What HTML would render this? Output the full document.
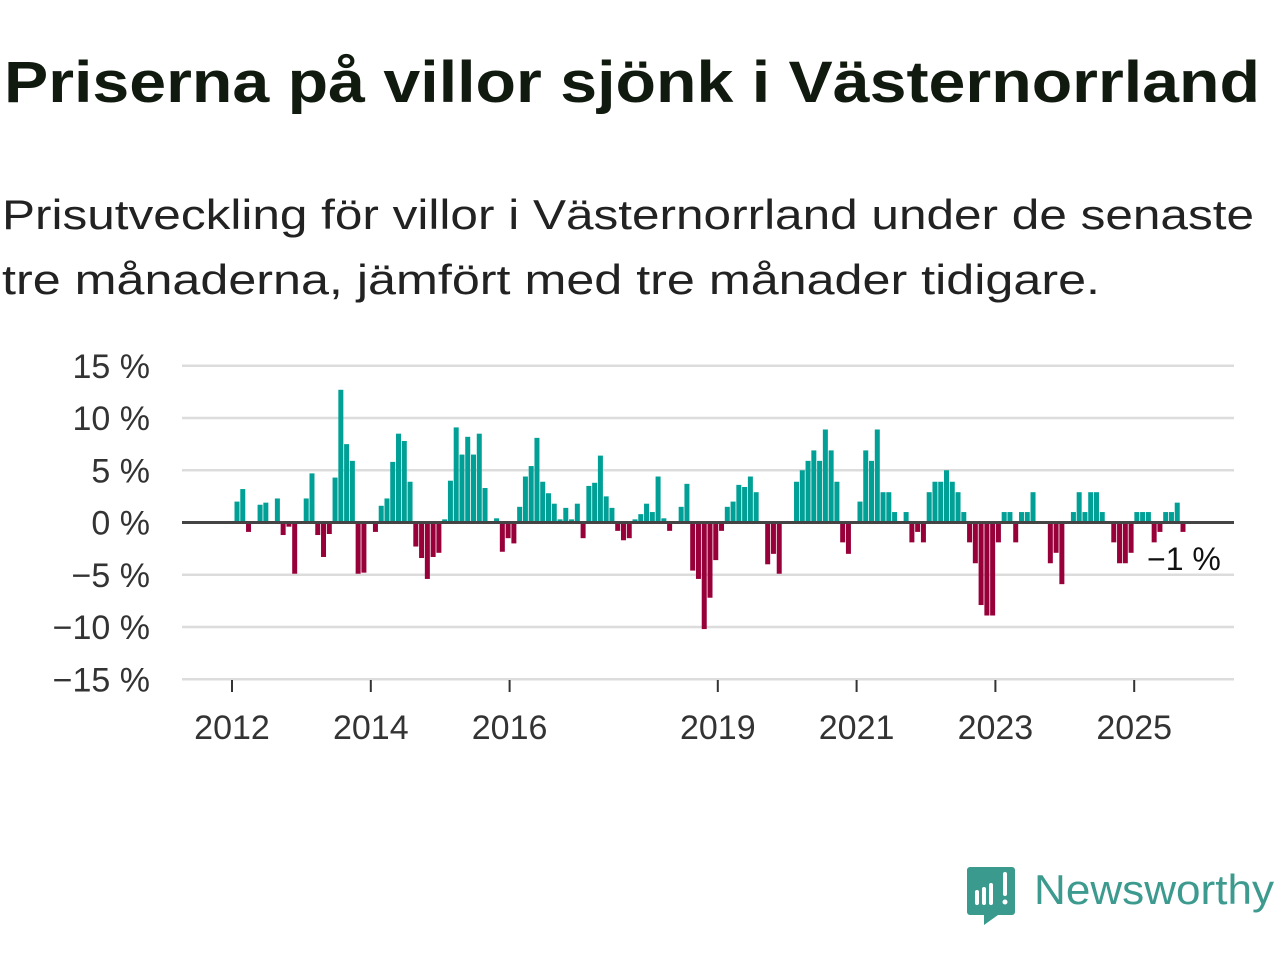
<!DOCTYPE html>
<html><head><meta charset="utf-8"><style>
html,body{margin:0;padding:0;background:#fff}
svg{display:block}
text{font-family:"Liberation Sans","DejaVu Sans",sans-serif}
</style></head><body>
<svg id="chart" width="1280" height="960" viewBox="0 0 1280 960">
<text x="4" y="102" font-size="58" font-weight="bold" fill="#111a0f" textLength="1256" lengthAdjust="spacingAndGlyphs">Priserna på villor sjönk i Västernorrland</text>
<text x="2" y="229" font-size="42" fill="#222" textLength="1252" lengthAdjust="spacingAndGlyphs">Prisutveckling för villor i Västernorrland under de senaste</text>
<text x="2" y="294" font-size="42" fill="#222" textLength="1098" lengthAdjust="spacingAndGlyphs">tre månaderna, jämfört med tre månader tidigare.</text>
<g id="grid"></g><g id="bars"></g><g id="axes"></g>
<g>
<path d="M970 867 h42 a3 3 0 0 1 3 3 v42 a3 3 0 0 1 -3 3 h-14 l-14 10 v-10 h-14 a3 3 0 0 1 -3 -3 v-42 a3 3 0 0 1 3 -3z" fill="#3a9a8e"/>
<rect x="975" y="890" width="4" height="15" rx="2" fill="#fff"/><rect x="982" y="887" width="4" height="18" rx="2" fill="#fff"/><rect x="989" y="883" width="4" height="22" rx="2" fill="#fff"/><rect x="1003" y="872" width="4" height="24" rx="2" fill="#fff"/><circle cx="1005" cy="902" r="2.5" fill="#fff"/>
<text x="1034" y="904" font-size="42" fill="#3d9a8f" textLength="240" lengthAdjust="spacingAndGlyphs">Newsworthy</text>
</g>
</svg>
<script>
const values=[2,3.2,-0.9,0,1.7,1.9,0,2.3,-1.2,-0.4,-4.9,0,2.3,4.7,-1.2,-3.3,-1.1,4.3,12.7,7.5,5.9,-4.9,-4.8,0,-0.9,1.6,2.3,5.8,8.5,7.8,3.9,-2.3,-3.4,-5.4,-3.3,-2.9,0.3,4.0,9.1,6.5,8.2,6.5,8.5,3.3,0,0.4,-2.8,-1.5,-2.0,1.5,4.4,5.4,8.1,
3.9,2.8,1.8,0.3,1.4,0.3,1.8,-1.5,3.5,3.8,6.4,2.5,1.4,-0.8,-1.7,-1.5,0.3,0.8,1.8,1.0,4.4,0.4,-0.8,0,1.5,3.7,-4.6,-5.4,-10.2,-7.2,-3.6,-0.8,1.5,2.0,3.6,3.4,4.4,2.9,0,-4.0,-3.0,-4.9,0,0,3.9,5.0,5.9,6.9,5.9,8.9,6.9,3.9,-1.9,-3.0,0,2.0,6.9,5.9,8.9,
2.9,2.9,1.0,0,1.0,-1.9,-0.9,-1.9,2.9,3.9,3.9,5.0,3.9,2.9,1.0,-1.9,-3.9,-7.9,-8.9,-8.9,-1.9,1.0,1.0,-1.9,1.0,1.0,2.9,0,0,-3.9,-2.9,-5.9,0,1.0,2.9,1.0,2.9,2.9,1.0,0,-1.9,-3.9,-3.9,-2.9,1.0,1.0,1.0,-1.9,-0.9,1.0,1.0,1.9,-0.9];
const yTicks=[15,10,5,0,-5,-10,-15];
const yTickLabels=["15 %","10 %","5 %","0 %","−5 %","−10 %","−15 %"];
const years=[2012,2014,2016,2019,2021,2023,2025];
const lastLabel="−1 %";
const NS="http://www.w3.org/2000/svg";
function y(v){return 522.5-v*10.45;}
function xi(i){return 237+i*(1183-237)/(values.length-1);}
function xYear(yr){return 232+(yr-2012)*69.4;}
function mk(tag,attrs,parent){const e=document.createElementNS(NS,tag);for(const k in attrs)e.setAttribute(k,attrs[k]);parent.appendChild(e);return e;}
const grid=document.getElementById('grid'),bars=document.getElementById('bars'),axes=document.getElementById('axes');
yTicks.forEach((t,k)=>{
 if(t!==0){const l=mk('line',{x1:182,x2:1234,y1:y(t),y2:y(t),stroke:'#dcdcdc','stroke-width':2.5},grid);
 
 }
 const tx=mk('text',{x:150,y:y(t)+12,'font-size':34,fill:'#333','text-anchor':'end'},axes);
 tx.textContent=yTickLabels[k];
 
 
});
values.forEach((v,i)=>{
 if(v===0)return;
 const y0=y(Math.max(v,0)),h=Math.abs(y(v)-y(0));
 const r=mk('rect',{x:xi(i)-2.5,y:y0,width:5,height:h,fill:v>0?'#00a096':'#98003a'},bars);
 
 
});
const zl=mk('line',{x1:182,x2:1234,y1:y(0),y2:y(0),stroke:'#444','stroke-width':3},axes);


years.forEach(yr=>{
 const x=xYear(yr);
 const t=mk('line',{x1:x,x2:x,y1:680,y2:692,stroke:'#333','stroke-width':2},axes);
 
 
 const tx=mk('text',{x:x,y:739,'font-size':34,fill:'#333','text-anchor':'middle'},axes);
 tx.textContent=yr;
 
 
});
const lab=mk('text',{x:1147,y:570,'font-size':32,fill:'#111',stroke:'#fff','stroke-width':6,'paint-order':'stroke'},axes);
lab.textContent=lastLabel;


</script>
</body></html>
